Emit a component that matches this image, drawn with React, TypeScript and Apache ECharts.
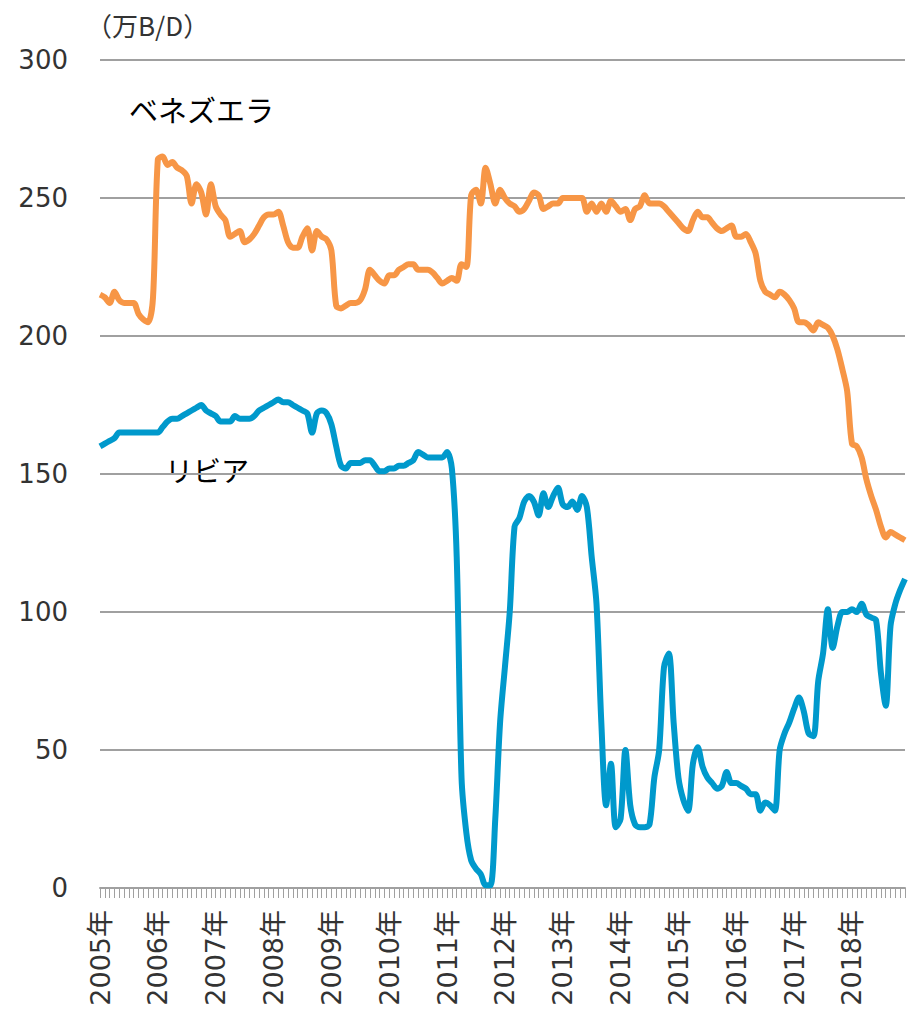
import React, { useEffect, useRef } from "react";
import * as echarts from "echarts";

const years = [2005, 2006, 2007, 2008, 2009, 2010, 2011, 2012, 2013, 2014, 2015, 2016, 2017, 2018];
const monthNums = ["01", "02", "03", "04", "05", "06", "07", "08", "09", "10", "11", "12"];
const categories: string[] = [];
years.forEach((y) => monthNums.forEach((m) => categories.push(`${y}-${m}`)));

const yTicks = [0, 50, 100, 150, 200, 250, 300];
const unitLabel = "（万B/D）";
const venezuelaName = "ベネズエラ";
const libyaName = "リビア";

// Venezuela crude production (万B/D), monthly 2005-01 .. 2018-12
const venezuela = [
  215, 214, 212, 216, 213, 212, 212, 212, 208, 206, 205, 214,
  264, 265, 262, 263, 261, 260, 258, 248, 255, 252, 244, 255,
  247, 244, 242, 236, 237, 238, 234, 235, 237, 240, 243, 244,
  244, 245, 240, 234, 232, 232, 236, 239, 231, 238, 236, 235,
  231, 211, 210, 211, 212, 212, 213, 217, 224, 222, 220, 219,
  222, 222, 224, 225, 226, 226, 224, 224, 224, 223, 221, 219,
  220, 221, 220, 226, 225, 251, 253, 248, 261, 255, 248, 253,
  250, 248, 247, 245, 246, 249, 252, 251, 246, 247, 248, 248,
  250, 250, 250, 250, 250, 245, 248, 245, 248, 245, 249, 247,
  245, 246, 242, 246, 247, 251, 248, 248, 248, 247, 245, 243,
  241, 239, 238, 242, 245, 243, 243, 241, 239, 238, 239, 240,
  236, 236, 237, 234, 230, 220, 216, 215, 214, 216, 215, 213,
  210, 205, 205, 204, 202, 205, 204, 203, 200, 195, 188, 180,
  161, 160, 156, 148, 142, 137, 131, 127, 129, 128, 127, 126,
];

// Libya crude production (万B/D), monthly 2005-01 .. 2018-12
const libya = [
  160, 161, 162, 163, 165, 165, 165, 165, 165, 165, 165, 165,
  165, 167, 169, 170, 170, 171, 172, 173, 174, 175, 173, 172,
  171, 169, 169, 169, 171, 170, 170, 170, 171, 173, 174, 175,
  176, 177, 176, 176, 175, 174, 173, 172, 165, 172, 173, 172,
  168, 160, 153, 152, 154, 154, 154, 155, 155, 153, 151, 151,
  152, 152, 153, 153, 154, 155, 158, 157, 156, 156, 156, 156,
  158, 152, 120, 40, 20, 10, 7, 5, 1, 1, 25, 60,
  80, 100, 131, 134, 140, 142, 140, 135, 143, 138, 142, 145,
  139, 138, 140, 137, 142, 138, 120, 103, 60, 30, 45, 22,
  25, 50, 30, 23, 22, 22, 23, 40, 50, 80, 85, 60,
  40, 32, 28, 45, 51, 44, 40, 38, 36, 37, 42, 38,
  38, 37, 36, 34, 34, 28, 31, 30, 28, 50, 56, 60,
  65, 69, 64, 56, 55, 75, 85, 101, 87, 95, 100, 100,
  101, 100, 103, 99, 98, 97, 78, 66, 95, 103, 108, 112,
];

const FONT = "'DejaVu Sans', 'Noto Sans CJK JP', sans-serif";
const CJK = "'Noto Sans CJK JP', sans-serif";

export default function App() {
  const ref = useRef<HTMLDivElement>(null);
  useEffect(() => {
    document.body.style.margin = "0";
    const chart = echarts.init(ref.current!, null, { renderer: "svg" });
    chart.setOption({
      animation: false,
      backgroundColor: "#ffffff",
      grid: { left: 100, right: 10, top: 60, bottom: 122, containLabel: false },
      xAxis: {
        type: "category",
        data: categories,
        boundaryGap: false,
        axisLine: { show: true, lineStyle: { color: "#a0a0a0", width: 2 } },
        axisTick: { show: true, interval: 0, length: 10, lineStyle: { color: "#a0a0a0", width: 1 } },
        axisLabel: {
          interval: (i: number) => i % 12 === 0,
          formatter: (v: string) => v.slice(0, 4) + "年",
          rotate: 90,
          margin: 22,
          fontSize: 27,
          padding: [9, 0, 0, 0],
          color: "#333333",
          fontFamily: FONT,
        },
        splitLine: { show: false },
      },
      yAxis: {
        type: "value",
        min: yTicks[0],
        max: yTicks[yTicks.length - 1],
        interval: 50,
        axisLine: { show: false },
        axisTick: { show: false },
        axisLabel: { fontSize: 26, color: "#333333", fontFamily: FONT, margin: 32 },
        splitLine: { lineStyle: { color: "#a0a0a0", width: 2 } },
      },
      graphic: [
        {
          type: "text",
          left: 86,
          top: 11,
          style: { text: unitLabel, fontSize: 26, fill: "#333333", fontFamily: CJK },
        },
        {
          type: "text",
          left: 129,
          top: 94,
          style: { text: venezuelaName, fontSize: 29, fill: "#000000", fontFamily: CJK },
        },
        {
          type: "text",
          left: 165,
          top: 456,
          style: { text: libyaName, fontSize: 28, fill: "#000000", fontFamily: CJK },
        },
      ],
      series: [
        {
          name: venezuelaName,
          type: "line",
          data: venezuela,
          symbol: "none",
          smooth: 0.3,
          lineStyle: { color: "#F79646", width: 6 },
          z: 3,
        },
        {
          name: libyaName,
          type: "line",
          data: libya,
          symbol: "none",
          smooth: 0.3,
          lineStyle: { color: "#0099CC", width: 6 },
          z: 4,
        },
      ],
    });
    return () => chart.dispose();
  }, []);
  return <div ref={ref} style={{ width: 915, height: 1010 }} />;
}
